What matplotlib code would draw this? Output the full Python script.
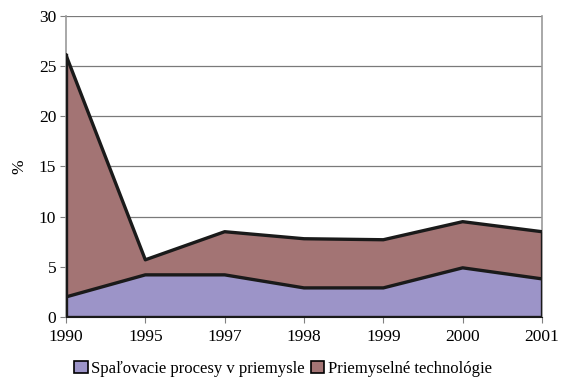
import matplotlib.pyplot as plt
from matplotlib.patches import Patch

years = ['1990', '1995', '1997', '1998', '1999', '2000', '2001']
spalovacie = [2.0, 4.2, 4.2, 2.9, 2.9, 4.9, 3.8]
technologie = [24.1, 1.5, 4.3, 4.9, 4.8, 4.6, 4.7]

c_low = '#9C94C8'
c_high = '#A37474'

plt.rcParams['font.family'] = ['Liberation Serif', 'DejaVu Serif']
plt.rcParams['font.size'] = 12.5

fig = plt.figure(figsize=(5.66, 3.81), dpi=100)
ax = fig.add_axes([0.1166, 0.168, 0.841, 0.79])

x = list(range(len(years)))
total = [a + b for a, b in zip(spalovacie, technologie)]

ax.fill_between(x, 0, spalovacie, color=c_low, linewidth=0, zorder=2)
ax.fill_between(x, spalovacie, total, color=c_high, linewidth=0, zorder=2)
# black outlines around both areas
ax.plot(x, spalovacie, color='#1a1a1a', lw=2.4, zorder=3)
ax.plot(x, total, color='#1a1a1a', lw=2.4, zorder=3)
ax.plot([0, 0], [0, total[0]], color='#1a1a1a', lw=2.4, zorder=3)
ax.plot([x[-1], x[-1]], [0, total[-1]], color='#1a1a1a', lw=2.4, zorder=3)
ax.plot([0, x[-1]], [0, 0], color='#1a1a1a', lw=2.4, zorder=3)

ax.set_xlim(0, len(years) - 1)
ax.set_ylim(0, 30)
ax.set_yticks(range(0, 31, 5))
ax.set_xticks(x)
ax.set_xticklabels(years)
ax.yaxis.grid(True, color='#7a7a7a', lw=0.9, zorder=1)
ax.set_axisbelow(True)
ax.set_ylabel('%', labelpad=8)

for s in ['left', 'right']:
    ax.spines[s].set_color('#999999')
    ax.spines[s].set_linewidth(1.2)
ax.spines['top'].set_visible(False)
ax.spines['bottom'].set_color('#1a1a1a')
ax.tick_params(axis='both', direction='out', length=4, color='#808080', pad=3)
ax.tick_params(axis='x', pad=5)

handles = [Patch(facecolor=c_low, edgecolor='black', lw=1.2),
           Patch(facecolor=c_high, edgecolor='black', lw=1.2)]
fig.legend(handles, ['Spaľovacie procesy v priemysle', 'Priemyselné technológie'],
           loc='center', bbox_to_anchor=(0.5, 0.032), ncol=2, frameon=False,
           handlelength=0.8, handleheight=0.8, handletextpad=0.2, columnspacing=0.4,
           fontsize=12)

fig.savefig('out.png', dpi=100)
